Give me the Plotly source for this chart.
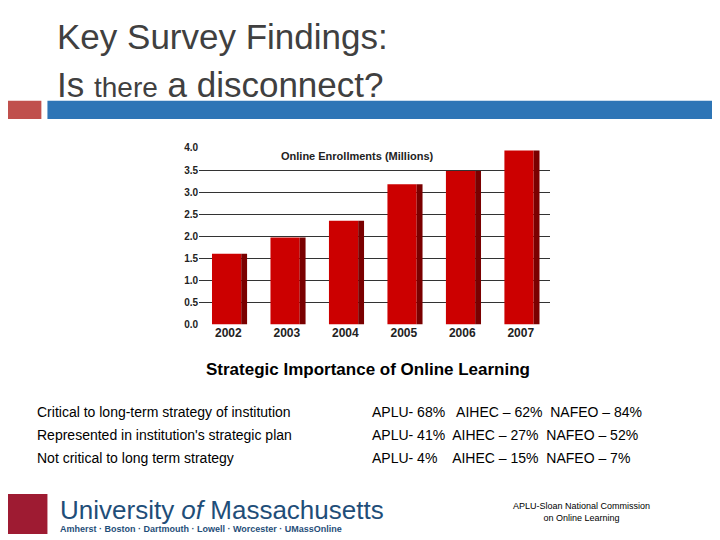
import plotly.graph_objects as go

years = ["2002", "2003", "2004", "2005", "2006", "2007"]
enroll = [1.60, 1.97, 2.35, 3.18, 3.48, 3.94]
ticks = [0.0, 0.5, 1.0, 1.5, 2.0, 2.5, 3.0, 3.5, 4.0]
rows_left = ["Critical to long-term strategy of institution",
             "Represented in institution's strategic plan",
             "Not critical to long term strategy"]
rows_right = ["APLU- 68%   AIHEC – 62%  NAFEO – 84%",
              "APLU- 41%  AIHEC – 27%  NAFEO – 52%",
              "APLU- 4%    AIHEC – 15%  NAFEO – 7%"]

W, H = 720, 540
def px(x): return (x - 9) / 712
def py(y): return 1 - (y - 13.4) / 0.977 / H

fig = go.Figure()
fig.add_bar(x=years, y=enroll, marker=dict(color="#cc0000", line=dict(width=0)),
            width=0.5, offset=-0.28, showlegend=False)
fig.add_bar(x=years, y=enroll, marker=dict(color="#7a0000", line=dict(width=0)),
            width=0.1, offset=0.22, showlegend=False)
fig.update_layout(
    width=W, height=H, margin=dict(l=0, r=0, t=0, b=0), barmode="overlay",
    paper_bgcolor="white", plot_bgcolor="white",
    font=dict(family="Liberation Sans, Arial", color="black"),
    xaxis=dict(domain=[px(198), px(545)], tickfont=dict(size=12, color="#222"),
               tickvals=years, ticktext=[f"<b>{y}</b>" for y in years],
               showline=False, ticks=""),
    yaxis=dict(domain=[py(323), py(147)], range=[0, 4.0], tickvals=ticks,
               ticktext=[f"<b>{t:.1f}</b>" for t in ticks], tickfont=dict(size=10, color="#222"),
               gridcolor="#333", gridwidth=1, zeroline=False, showline=False),
)
shapes = [
    dict(type="rect", xref="paper", yref="paper", x0=0, x1=px(42), y0=py(118), y1=py(100),
         fillcolor="#c0504d", line=dict(width=0)),
    dict(type="rect", xref="paper", yref="paper", x0=px(48), x1=1, y0=py(118), y1=py(100),
         fillcolor="#2e75b6", line=dict(width=0)),
    dict(type="rect", xref="paper", yref="paper", x0=px(5), x1=px(48), y0=py(532), y1=py(492),
         fillcolor="#9e1b32", line=dict(width=0)),
]
fig.update_layout(shapes=shapes)
ann = [
    dict(x=px(55), y=py(36), text="Key Survey Findings:", size=35, color="#404040", xa="left"),
    dict(x=px(55), y=py(84), text="Is <span style='font-size:28px'>there</span> a disconnect?", size=35, color="#404040", xa="left"),
    dict(x=px(355), y=py(155), text="<b>Online Enrollments (Millions)</b>", size=11, color="#222", xa="center"),
    dict(x=px(365), y=py(368), text="<b>Strategic Importance of Online Learning</b>", size=17, color="black", xa="center"),
    dict(x=px(58), y=py(508), text="University <i>of</i> Massachusetts", size=26, color="#1f4e79", xa="left"),
    dict(x=px(58), y=py(527), text="<b>Amherst · Boston · Dartmouth · Lowell · Worcester · UMassOnline</b>", size=9, color="#1f4e79", xa="left"),
    dict(x=px(576), y=py(510), text="APLU-Sloan National Commission<br>on Online Learning", size=9, color="black", xa="center"),
]
for i, (l, r) in enumerate(zip(rows_left, rows_right)):
    y = 410 + i * 23
    ann.append(dict(x=px(36), y=py(y), text=l, size=14, color="black", xa="left"))
    ann.append(dict(x=px(367), y=py(y), text=r, size=14, color="black", xa="left"))
for a in ann:
    fig.add_annotation(x=a["x"], y=a["y"], xref="paper", yref="paper", text=a["text"], showarrow=False,
                       xanchor=a["xa"], yanchor="middle", font=dict(size=a["size"], color=a["color"]))
fig.write_html("out.html")
